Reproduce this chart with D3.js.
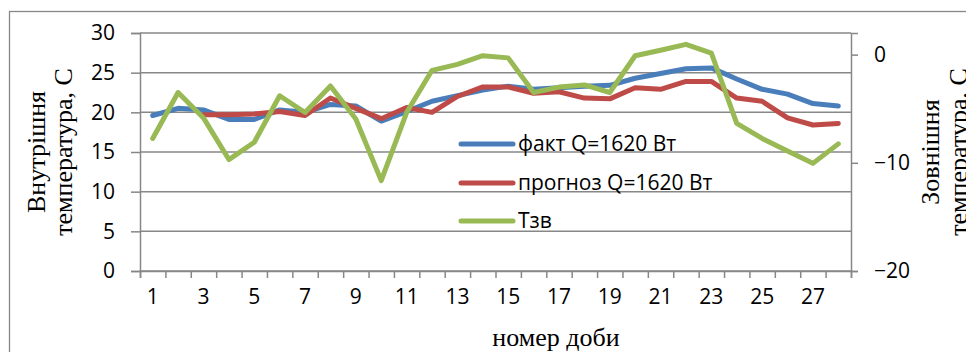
<!DOCTYPE html>
<html>
<head>
<meta charset="utf-8">
<script src="https://cdn.jsdelivr.net/npm/d3@7"></script>
<style>
  html, body { margin: 0; padding: 0; background: #fff; overflow: hidden; }
  svg { display: block; }
</style>
</head>
<body>
<svg id="chart" width="966" height="352"></svg>
<script>
// Day numbers along the x axis
const days = [1,2,3,4,5,6,7,8,9,10,11,12,13,14,15,16,17,18,19,20,21,22,23,24,25,26,27,28];
const dayLabels = [1,3,5,7,9,11,13,15,17,19,21,23,25,27];

// Indoor temperature, measured (°C, left axis)
const fact = [19.6,20.5,20.3,19.1,19.1,20.3,20.0,21.0,20.8,18.9,20.1,21.4,22.1,22.8,
              23.3,22.9,23.1,23.3,23.4,24.3,24.9,25.5,25.6,24.2,22.9,22.3,21.1,20.8];
// Indoor temperature, forecast (°C, left axis); no forecast for the first two days
const forecast = [null,null,19.7,19.7,19.8,20.1,19.6,21.8,20.5,19.2,20.6,20.0,22.0,23.2,
                  23.2,22.4,22.6,21.8,21.7,23.1,22.9,23.9,23.9,21.8,21.4,19.3,18.4,18.6];
// Outdoor temperature (°C, right axis)
const outdoor = [-7.75,-3.5,-5.85,-9.7,-8.1,-3.8,-5.35,-2.9,-5.95,-11.65,-5.35,-1.45,-0.9,-0.1,
                 -0.3,-3.5,-3.0,-2.8,-3.5,-0.1,0.4,0.95,0.15,-6.35,-7.75,-8.9,-10.05,-8.25];

const leftTicks = [0,5,10,15,20,25,30];
const rightTicks = [-20,-10,0];

const seriesNames = ["факт Q=1620 Вт", "прогноз Q=1620 Вт", "Тзв"];
const seriesColors = ["#4a7ebb", "#be4b48", "#98b954"];

const svg = d3.select("#chart");
const gray = "#878787";
const sans = "'Open Sans', 'Noto Sans', sans-serif";
const serif = "'Liberation Serif', 'Times New Roman', serif";
const sansSize = 21;
const serifSize = 26;

const plot = { left: 140, right: 851, top: 33, bottom: 271 };

const x = d3.scaleBand().domain(days).range([plot.left, plot.right]);
const xEdge = d3.scaleLinear().domain([0, days.length]).range([plot.left, plot.right]);
const yL = d3.scaleLinear().domain([0, 30]).range([plot.bottom, plot.top]);
const yR = d3.scaleLinear().domain([-20, 2]).range([plot.bottom, plot.top]);
const cx = d => x(d) + x.bandwidth() / 2;

// Outer chart frame
svg.append("rect")
  .attr("x", 9.5).attr("y", 11.5).attr("width", 1100).attr("height", 500)
  .attr("fill", "none").attr("stroke", gray).attr("stroke-width", 1.3);

// Horizontal gridlines
svg.append("g").selectAll("line").data(leftTicks).join("line")
  .attr("x1", plot.left).attr("x2", plot.right)
  .attr("y1", d => yL(d)).attr("y2", d => yL(d))
  .attr("stroke", gray).attr("stroke-width", 1.5);

// Left axis
const gL = svg.append("g").attr("transform", `translate(${plot.left},0)`)
  .call(d3.axisLeft(yL).tickValues(leftTicks).tickSize(9).tickPadding(16));
gL.select(".domain").attr("stroke", gray).attr("stroke-width", 1.5);
gL.selectAll(".tick line").attr("stroke", gray).attr("stroke-width", 1.5);
gL.selectAll(".tick text").attr("font-family", sans).attr("font-size", sansSize).attr("fill", "#000");

// Right axis
const gR = svg.append("g").attr("transform", `translate(${plot.right},0)`)
  .call(d3.axisRight(yR).tickValues(rightTicks).tickSize(7).tickPadding(16));
gR.select(".domain").attr("stroke", gray).attr("stroke-width", 1.5);
gR.selectAll(".tick line").attr("stroke", gray).attr("stroke-width", 1.5);
gR.selectAll(".tick text").attr("font-family", sans).attr("font-size", sansSize).attr("fill", "#000");

// Bottom axis: tick marks between days
const gB = svg.append("g").attr("transform", `translate(0,${plot.bottom})`)
  .call(d3.axisBottom(xEdge).tickValues(d3.range(0, days.length + 1)).tickSize(7).tickFormat(""));
gB.select(".domain").attr("stroke", gray).attr("stroke-width", 1.5);
gB.selectAll(".tick line").attr("stroke", gray).attr("stroke-width", 1.5);

// Bottom axis labels, every second day
const gBL = svg.append("g").attr("transform", `translate(0,${plot.bottom})`)
  .call(d3.axisBottom(x).tickValues(dayLabels).tickSize(0).tickPadding(18));
gBL.select(".domain").remove();
gBL.selectAll(".tick text").attr("font-family", sans).attr("font-size", sansSize).attr("fill", "#000");

// Lines
const lineL = d3.line().defined(v => v != null).x((v, i) => cx(days[i])).y(v => yL(v));
const lineR = d3.line().defined(v => v != null).x((v, i) => cx(days[i])).y(v => yR(v));

const lines = [
  { data: fact, gen: lineL },
  { data: forecast, gen: lineL },
  { data: outdoor, gen: lineR }
];
svg.append("g").selectAll("path").data(lines).join("path")
  .attr("d", d => d.gen(d.data))
  .attr("fill", "none")
  .attr("stroke", (d, i) => seriesColors[i])
  .attr("stroke-width", 5)
  .attr("stroke-linejoin", "round")
  .attr("stroke-linecap", "round");

// Legend
const legendY = [144, 183, 221];
const lg = svg.append("g");
seriesNames.forEach((name, i) => {
  lg.append("line")
    .attr("x1", 461).attr("x2", 513)
    .attr("y1", legendY[i]).attr("y2", legendY[i])
    .attr("stroke", seriesColors[i]).attr("stroke-width", 5).attr("stroke-linecap", "round");
  lg.append("text")
    .attr("x", 518).attr("y", legendY[i]).attr("dy", "0.35em")
    .attr("font-family", sans).attr("font-size", sansSize).attr("fill", "#000")
    .text(name);
});

// Axis titles
function vTitle(cxPos, cyPos, lines, gap) {
  const t = svg.append("text")
    .attr("transform", `translate(${cxPos},${cyPos}) rotate(-90)`)
    .attr("text-anchor", "middle")
    .attr("font-family", serif).attr("font-size", serifSize).attr("fill", "#000");
  lines.forEach((s, i) => {
    t.append("tspan").attr("x", 0).attr("y", (i - (lines.length - 1) / 2) * gap).attr("dy", "0.35em").text(s);
  });
}
vTitle(49, 152, ["Внутрішня", "температура, С"], 27);
vTitle(944, 152, ["Зовнішня", "температура, С"], 28);

svg.append("text")
  .attr("x", 556).attr("y", 337).attr("dy", "0.35em")
  .attr("text-anchor", "middle")
  .attr("font-family", serif).attr("font-size", serifSize).attr("fill", "#000")
  .text("номер доби");
</script>
</body>
</html>
